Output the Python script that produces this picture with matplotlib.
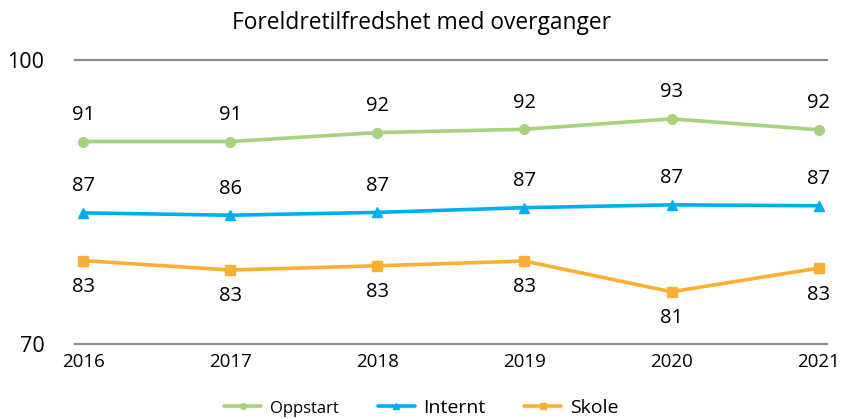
import matplotlib.pyplot as plt

plt.rcParams['font.family'] = ['Open Sans', 'DejaVu Sans']

years = ['2016', '2017', '2018', '2019', '2020', '2021']

# plotted positions and the printed labels
oppstart = [91.4, 91.4, 92.35, 92.7, 93.8, 92.65]
internt = [83.85, 83.6, 83.9, 84.4, 84.7, 84.6]
skole = [78.8, 77.8, 78.25, 78.75, 75.5, 78.0]

oppstart_lbl = ['91', '91', '92', '92', '93', '92']
internt_lbl = ['87', '86', '87', '87', '87', '87']
skole_lbl = ['83', '83', '83', '83', '81', '83']

fig = plt.figure(figsize=(8.43, 4.19), dpi=100)
ax = fig.add_axes([75 / 843, 1 - 343.7 / 419, (827 - 75) / 843, (343.7 - 60.3) / 419])

x = range(len(years))
serier = [
    ('Oppstart', oppstart, oppstart_lbl, '#A9D27F', 'o', 7, 1),
    ('Internt', internt, internt_lbl, '#00AEEF', '^', 7.5, 1),
    ('Skole', skole, skole_lbl, '#FBB034', 's', 7.5, -1),
]
for navn, verdier, lbl, farge, mk, ms, retning in serier:
    ax.plot(x, verdier, color=farge, lw=2.6, marker=mk, markersize=ms,
            label=navn, solid_capstyle='round')
    for i, (v, t) in enumerate(zip(verdier, lbl)):
        ax.annotate(t, (i, v), xytext=(0, 19 * retning), textcoords='offset points',
                    ha='center', va='center', fontsize=14.5, color='black')

ax.set_xlim(-0.055, 5.057)
ax.set_ylim(70, 100)
ax.set_yticks([70, 100])
ax.set_yticklabels(['70', '100'], fontsize=15.5)
ax.set_xticks(list(x))
ax.set_xticklabels(years, fontsize=13.5)
ax.tick_params(axis='y', length=0, pad=22)
ax.tick_params(axis='x', length=0, pad=7)
for side in ['left', 'right', 'top']:
    ax.spines[side].set_visible(False)
ax.spines['bottom'].set_color('#8c8c8c')
ax.spines['bottom'].set_linewidth(1.6)
ax.axhline(100, color='#8c8c8c', lw=1.6, clip_on=False)

fig.suptitle('Foreldretilfredshet med overganger', x=0.5, y=1 - 23 / 419,
             va='center', fontsize=16.4)

leg = fig.legend(loc='center', bbox_to_anchor=(0.5, 1 - 408 / 419), ncol=3,
                 frameon=False, fontsize=14, handlelength=1.9, columnspacing=2.0,
                 handletextpad=0.45, markerscale=0.6)
leg.get_texts()[0].set_fontsize(12)

fig.savefig('out.png', dpi=100)
